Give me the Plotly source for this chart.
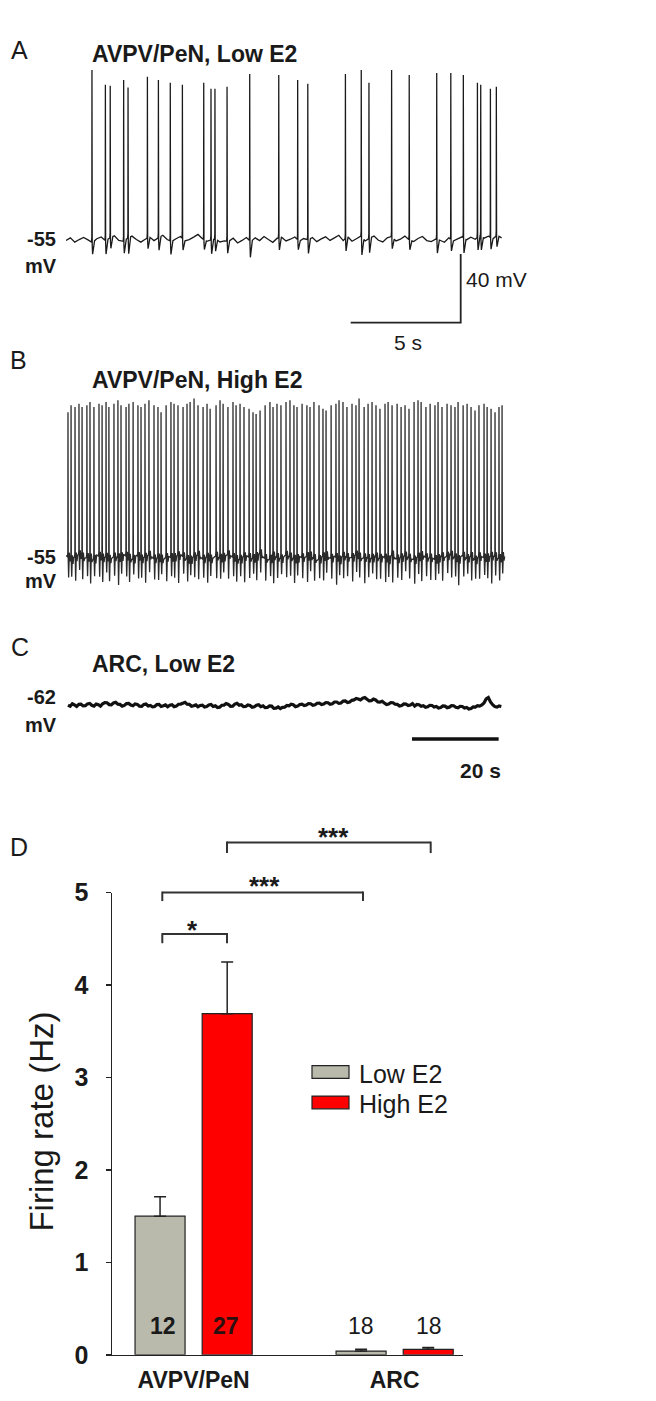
import numpy as np
import plotly.graph_objects as go

W, H = 656, 1401
def PX(x): return x / W
def PY(y): return 1 - y / H

FONT = "Liberation Sans, Arial, sans-serif"

# ---------------- Panel A: AVPV/PeN, Low E2 (time s, membrane potential mV)
A_SPIKE_T = [1.18, 1.79, 2.01, 2.62, 2.82, 3.70, 4.20, 4.74, 5.29, 6.26,
             6.59, 6.77, 7.32, 8.35, 9.67, 10.53, 10.99, 12.70, 13.42, 13.77,
             14.80, 15.60, 16.85, 17.49, 18.06, 18.70, 18.85, 19.29, 19.56]
A_SPIKE_PEAK = [43.9, 35.3, 34.7, 38.1, 33.6, 39.9, 38.1, 36.4, 35.3, 36.4,
                33.0, 33.0, 34.1, 41.6, 41.0, 38.1, 35.9, 41.6, 43.9, 36.4,
                43.9, 41.0, 42.1, 42.1, 41.0, 36.4, 35.3, 33.0, 34.1]
A_SPIKE_AHP = [7, 8, 6, 7, 9, 6, 7, 8, 7, 6,
               8, 7, 7, 10, 7, 6, 8, 7, 11, 8,
               7, 6, 8, 7, 9, 7, 8, 7, 6]
A_BASE_DT = 0.2
A_BASE = [-55.5, -54.0, -56.5, -55.0, -53.8, -55.2, -56.8, -54.5, -53.5, -55.8,
          -54.0, -52.8, -55.5, -56.0, -54.2, -53.0, -55.0, -56.5, -54.8, -53.5,
          -55.6, -54.0, -52.5, -55.0, -56.2, -54.5, -53.2, -55.8, -55.0, -53.6,
          -52.0, -54.5, -56.0, -55.2, -54.6, -56.4, -55.8, -56.0, -54.2, -57.0,
          -55.5, -53.8, -56.2, -54.0, -55.6, -53.2, -55.0, -56.6, -54.2, -53.6,
          -55.8, -54.8, -53.5, -56.0, -54.4, -55.2, -53.8, -56.2, -54.6, -53.4,
          -55.5, -54.0, -52.5, -55.6, -53.2, -56.0, -54.5, -53.0, -55.8, -54.2,
          -53.0, -55.4, -56.4, -54.0, -53.2, -55.8, -54.8, -53.0, -55.2, -56.2,
          -54.4, -53.2, -55.6, -56.2, -54.8, -55.4, -56.6, -54.0, -55.8, -54.6,
          -53.4, -55.2, -53.6, -54.8, -52.8, -54.2, -53.0, -54.6, -52.5, -54.0]

# ---------------- Panel B: AVPV/PeN, High E2
B_SPIKE_T = [0.09, 0.23, 0.41, 0.59, 0.73, 0.95, 1.09, 1.27, 1.50, 1.64,
             1.82, 1.95, 2.18, 2.36, 2.50, 2.73, 2.86, 3.05, 3.27, 3.41,
             3.59, 3.77, 4.00, 4.18, 4.32, 4.55, 4.77, 4.91, 5.09, 5.32,
             5.50, 5.64, 5.82, 6.00, 6.23, 6.41, 6.55, 6.82, 7.00, 7.14,
             7.36, 7.59, 7.73, 7.91, 8.09, 8.32, 8.50, 8.64, 8.82, 9.05,
             9.27, 9.41, 9.59, 9.77, 10.00, 10.18, 10.36, 10.50, 10.73, 10.95,
             11.09, 11.27, 11.50, 11.68, 11.82, 12.05, 12.27, 12.41, 12.59, 12.77,
             13.00, 13.18, 13.32, 13.55, 13.73, 13.91, 14.09, 14.27, 14.50, 14.64,
             14.82, 15.05, 15.23, 15.41, 15.59, 15.82, 16.00, 16.14, 16.36, 16.55,
             16.77, 16.91, 17.09, 17.32, 17.50, 17.68, 17.82, 18.05, 18.23, 18.41,
             18.59, 18.77, 19.00, 19.14, 19.32, 19.50, 19.68, 19.82]
B_SPIKE_PEAK = [30, 34, 33, 35, 33, 34, 36, 33, 35, 34,
                36, 33, 35, 37, 34, 33, 35, 36, 34, 33,
                35, 37, 34, 33, 30, 34, 36, 35, 34, 33,
                35, 36, 38, 34, 33, 35, 32, 34, 37, 35,
                33, 36, 34, 35, 33, 32, 30, 29, 31, 34,
                36, 33, 35, 34, 36, 37, 34, 33, 35, 34,
                33, 36, 34, 32, 31, 34, 35, 37, 36, 33,
                35, 34, 38, 33, 35, 36, 34, 32, 35, 36,
                34, 35, 33, 34, 32, 36, 37, 36, 33, 35,
                34, 36, 33, 35, 34, 33, 36, 34, 35, 33,
                31, 34, 35, 33, 32, 30, 33, 34]
B_SPIKE_AHP = [12, 10, 14, 9, 13, 11, 15, 10, 12, 14,
               9, 13, 11, 16, 10, 12, 14, 9, 13, 11,
               15, 10, 12, 13, 9, 14, 11, 12, 16, 10,
               13, 9, 12, 14, 11, 15, 10, 13, 12, 9,
               14, 11, 13, 10, 15, 12, 9, 14, 11, 13,
               10, 16, 12, 9, 13, 11, 14, 10, 12, 15,
               9, 13, 11, 14, 10, 12, 16, 9, 13, 11,
               14, 10, 12, 15, 11, 9, 13, 12, 14, 10,
               16, 11, 13, 9, 12, 14, 10, 15, 11, 13,
               12, 9, 14, 10, 13, 11, 15, 12, 9, 14,
               11, 13, 10, 12, 16, 11, 13, 10]
B_BASE_DT = 0.2
B_BASE = [-53.5, -56.0, -54.2, -52.8, -55.6, -54.0, -56.5, -53.2, -55.0, -54.4,
          -56.2, -53.8, -55.2, -52.6, -54.8, -56.0, -53.4, -55.6, -54.2, -53.0,
          -55.8, -54.6, -56.4, -53.6, -55.0, -54.0, -52.8, -55.4, -56.2, -54.2,
          -53.2, -55.6, -54.4, -56.0, -53.8, -55.2, -54.0, -52.6, -55.0, -56.4,
          -54.6, -53.4, -55.8, -54.2, -52.4, -55.0, -56.2, -53.6, -54.8, -55.6,
          -53.0, -54.6, -56.0, -54.0, -55.4, -53.2, -54.8, -56.6, -54.4, -53.6,
          -55.2, -54.0, -56.2, -53.4, -55.0, -54.6, -52.8, -55.8, -54.2, -56.0,
          -53.8, -55.4, -54.0, -56.4, -53.2, -55.6, -54.8, -53.6, -55.2, -56.0,
          -54.2, -53.0, -55.4, -54.6, -56.2, -53.8, -55.0, -52.6, -54.4, -55.8,
          -53.6, -55.2, -54.0, -56.4, -53.4, -55.0, -54.6, -53.2, -55.6, -54.0]

# ---------------- Panel C: ARC, Low E2 (sampled every 0.5 s)
C_BASE_DT = 0.5
C_BASE = [-62.0, -62.7, -61.2, -61.9, -62.8, -61.6, -61.5, -62.5, -62.4, -61.3,
          -61.0, -62.1, -62.6, -61.4, -61.8, -62.6, -61.2, -60.5, -60.6, -61.7,
          -61.8, -60.8, -60.4, -61.5, -61.6, -62.6, -62.2, -61.1, -61.0, -62.0,
          -62.4, -61.3, -61.6, -62.7, -62.8, -61.6, -61.4, -62.5, -62.2, -63.0,
          -62.8, -61.7, -61.6, -62.8, -62.4, -61.9, -63.0, -62.1, -61.8, -62.9,
          -62.6, -61.5, -61.4, -60.9, -60.4, -61.5, -61.6, -62.7, -62.4, -61.9,
          -63.0, -62.2, -62.0, -63.1, -62.8, -61.9, -61.6, -62.8, -62.4, -63.4,
          -63.2, -62.1, -62.0, -61.1, -61.6, -62.7, -62.6, -61.4, -61.0, -62.1,
          -61.8, -62.9, -62.8, -61.9, -62.2, -63.3, -63.0, -62.1, -61.8, -62.9,
          -62.4, -63.5, -63.4, -62.5, -62.6, -63.9, -63.8, -63.1, -64.0, -63.3,
          -63.2, -62.2, -62.4, -61.5, -61.8, -62.9, -62.6, -61.6, -61.4, -62.3,
          -62.0, -61.1, -61.2, -62.1, -61.8, -60.9, -60.8, -61.7, -61.4, -60.5,
          -60.6, -61.5, -61.2, -60.2, -60.2, -61.0, -60.8, -59.7, -59.6, -60.5,
          -60.2, -59.2, -59.0, -58.1, -58.4, -59.0, -58.0, -57.6, -58.6, -59.5,
          -59.4, -58.5, -59.0, -60.1, -60.2, -59.8, -60.8, -61.7, -61.4, -60.5,
          -60.6, -61.5, -61.6, -62.5, -62.2, -61.3, -61.4, -62.3, -62.0, -61.1,
          -62.6, -61.6, -61.8, -62.7, -62.4, -63.3, -63.0, -62.1, -62.2, -63.1,
          -62.8, -63.7, -63.4, -62.5, -62.6, -63.5, -63.2, -62.3, -62.4, -63.3,
          -63.6, -62.7, -62.8, -63.7, -63.4, -64.3, -64.0, -63.1, -63.2, -62.3,
          -62.6, -61.9, -60.8, -58.4, -57.6, -60.2, -61.8, -62.9, -63.2, -62.5,
          -62.8]

# ---------------- Panel D: firing rate (Hz)
REGIONS = ["AVPV/PeN", "ARC"]
LOW_E2 = [1.50, 0.04]
LOW_E2_ERR = [0.21, 0.02]
HIGH_E2 = [3.69, 0.06]
HIGH_E2_ERR = [0.56, 0.02]
N_LOW = ["12", "18"]
N_HIGH = ["27", "18"]


def build_trace(base, dt, spike_t, peaks, ahps, extra=False):
    bt = np.arange(len(base)) * dt
    bv = np.array(base, dtype=float)
    st = np.array(spike_t, dtype=float)
    rise, rec = 0.02, 0.12
    pts = []
    for t, v in zip(bt, bv):
        if st.size and np.any((t > st - rise) & (t < st + rec)):
            continue
        pts.append((t, v))
    for ts, pk, ah in zip(spike_t, peaks, ahps):
        b0 = float(np.interp(ts - rise, bt, bv))
        b1 = float(np.interp(ts + rec, bt, bv))
        seg = [(ts - rise, b0), (ts - 0.006, b0 + 3.0), (ts, pk),
               (ts + 0.012, b0 - 2.0), (ts + 0.03, b0 - ah)]
        if extra:
            seg += [(ts + 0.06, b0 + 2.5), (ts + 0.09, b0 - 2.5)]
        seg.append((ts + rec, b1))
        pts += seg
    pts.sort()
    return [p[0] for p in pts], [p[1] for p in pts]


fig = go.Figure()

ax, ay = build_trace(A_BASE, A_BASE_DT, A_SPIKE_T, A_SPIKE_PEAK, A_SPIKE_AHP)
fig.add_trace(go.Scatter(x=ax, y=ay, mode="lines", xaxis="x", yaxis="y",
                         line=dict(color="#1a1a1a", width=1.3, simplify=False),
                         showlegend=False, hoverinfo="skip"))
# scale bars A (40 mV, 5 s)
fig.add_trace(go.Scatter(x=[12.94, 17.94, 17.94], y=[-103.4, -103.4, -63.4], mode="lines",
                         xaxis="x", yaxis="y", line=dict(color="#222", width=1.8),
                         showlegend=False, hoverinfo="skip"))

bx, by = build_trace(B_BASE, B_BASE_DT, B_SPIKE_T, B_SPIKE_PEAK, B_SPIKE_AHP, extra=True)
fig.add_trace(go.Scatter(x=bx, y=by, mode="lines", xaxis="x2", yaxis="y2",
                         line=dict(color="#2a2a2a", width=1.3, simplify=False),
                         showlegend=False, hoverinfo="skip"))

ct = list(np.arange(len(C_BASE)) * C_BASE_DT)
fig.add_trace(go.Scatter(x=ct, y=C_BASE, mode="lines", xaxis="x3", yaxis="y3",
                         line=dict(color="#111", width=3.2, simplify=False),
                         showlegend=False, hoverinfo="skip"))
# scale bar C (20 s)
fig.add_trace(go.Scatter(x=[79.38, 99.38], y=[-81.8, -81.8], mode="lines",
                         xaxis="x3", yaxis="y3", line=dict(color="#111", width=3.5),
                         showlegend=False, hoverinfo="skip"))

# Panel D bars
fig.add_trace(go.Bar(x=[0, 1], y=LOW_E2, name="Low E2", xaxis="x4", yaxis="y4",
                     marker=dict(color="#b9b9ac", line=dict(color="#222", width=1.2)),
                     error_y=dict(type="data", array=LOW_E2_ERR, arrayminus=[0, 0],
                                  symmetric=False, color="#222", thickness=1.5, width=6),
                     showlegend=False, hoverinfo="skip"))
fig.add_trace(go.Bar(x=[0, 1], y=HIGH_E2, name="High E2", xaxis="x4", yaxis="y4",
                     marker=dict(color="#ff0000", line=dict(color="#222", width=1.2)),
                     error_y=dict(type="data", array=HIGH_E2_ERR, arrayminus=[0, 0],
                                  symmetric=False, color="#222", thickness=1.5, width=6),
                     showlegend=False, hoverinfo="skip"))

hidden = dict(visible=False, fixedrange=True)
layout = dict(
    width=W, height=H, margin=dict(l=0, r=0, t=0, b=0),
    paper_bgcolor="white", plot_bgcolor="rgba(0,0,0,0)",
    barmode="group", bargap=0.332, bargroupgap=0.255,
    font=dict(family=FONT, color="#1a1a1a"),
    xaxis=dict(domain=[PX(58), PX(500)], range=[0, 20.09], anchor="y", **hidden),
    yaxis=dict(domain=[PY(320), PY(40)], range=[-111, 49], anchor="x", **hidden),
    xaxis2=dict(domain=[PX(58), PX(500)], range=[0, 20.09], anchor="y2", **hidden),
    yaxis2=dict(domain=[PY(590), PY(370)], range=[-79.6, 46.1], anchor="x2", **hidden),
    xaxis3=dict(domain=[PX(58), PX(500)], range=[-0.46, 101.54], anchor="y3", **hidden),
    yaxis3=dict(domain=[PY(760), PY(640)], range=[-98, -29.4], anchor="x3", **hidden),
    xaxis4=dict(domain=[PX(104), PX(455)], range=[-0.406, 1.340], anchor="y4",
                showline=True, linecolor="#222", linewidth=1.5, ticks="",
                tickvals=[0, 1], ticktext=REGIONS, showgrid=False, zeroline=False,
                tickfont=dict(family=FONT, size=23, color="#1a1a1a", weight="bold"),
                ticklabelstandoff=4, fixedrange=True),
    yaxis4=dict(domain=[PY(1360), PY(888.3)], range=[0, 5], anchor="x4",
                showline=True, linecolor="#222", linewidth=1.5, ticks="outside",
                ticklen=5, tickwidth=1.5, tickcolor="#222",
                tickvals=[0, 1, 2, 3, 4, 5], showgrid=False, zeroline=False,
                tickfont=dict(family=FONT, size=25, color="#1a1a1a", weight="bold"),
                ticklabelstandoff=12, fixedrange=True),
)
fig.update_layout(**layout)

ann = []
def T(text, x, y, size, bold=False, xanchor="center", color="#1a1a1a", angle=0):
    ann.append(dict(text=text, x=PX(x), y=PY(y), xref="paper", yref="paper",
                    xanchor=xanchor, yanchor="middle", showarrow=False, textangle=angle,
                    font=dict(family=FONT, size=size, color=color,
                              weight="bold" if bold else "normal")))

# panel letters
T("A", 11, 29, 25)
T("B", 10, 345, 25)
T("C", 12, 638, 25)
T("D", 11, 842, 25)
# titles
T("AVPV/PeN, Low E2", 82, 33, 23, True, "left")
T("AVPV/PeN, High E2", 82, 365, 23, True, "left")
T("ARC, Low E2", 82, 655, 23, True, "left")
# potential labels
T("-55", 33, 221, 20, True)
T("mV", 33, 249, 20, True)
T("-55", 33, 546, 20, True)
T("mV", 33, 570, 20, True)
T("-62", 33, 689, 20, True)
T("mV", 33, 717, 20, True)
# scale bar labels
T("40 mV", 456, 263, 21, False, "left")
T("5 s", 400, 327, 21, False)
T("20 s", 472, 764, 21, True)
# axis title
T("Firing rate (Hz)", 34, 1122, 33, False, angle=-90)
# legend
T("Low E2", 349, 1073, 25, False, "left")
T("High E2", 349, 1104, 25, False, "left")
# n labels
T(N_LOW[0], 155, 1331, 23, True)
T(N_HIGH[0], 218, 1331, 23, True, color="#2a1010")
T(N_LOW[1], 353, 1331, 23, False)
T(N_HIGH[1], 421, 1331, 23, False)
# stars
T("*", 184, 927, 26, True)
T("***", 256, 882, 26, True)
T("***", 325, 832, 26, True)

shapes = []
def L(x0, y0, x1, y1, w=2.0, c="#333"):
    shapes.append(dict(type="line", xref="paper", yref="paper", x0=PX(x0), y0=PY(y0),
                       x1=PX(x1), y1=PY(y1), line=dict(color=c, width=w)))
def bracket(xa, xb, y, yd):
    L(xa, y, xb, y)
    L(xa, y - 1, xa, yd)
    L(xb, y - 1, xb, yd)

bracket(154.3, 219, 930.7, 940)
bracket(154.3, 355, 888.3, 897)
bracket(219, 422.7, 837.3, 848)
# x-axis line extension to the left of y-axis
L(98, 1360, 104, 1360, 1.5, "#222")
# legend boxes
shapes.append(dict(type="rect", xref="paper", yref="paper", x0=PX(304), x1=PX(341),
                   y0=PY(1078), y1=PY(1065), fillcolor="#b9b9ac",
                   line=dict(color="#222", width=1.2)))
shapes.append(dict(type="rect", xref="paper", yref="paper", x0=PX(304), x1=PX(341),
                   y0=PY(1109), y1=PY(1096), fillcolor="#ff0000",
                   line=dict(color="#222", width=1.2)))

fig.update_layout(annotations=ann, shapes=shapes)
fig.write_html("out.html", config={"displayModeBar": False, "staticPlot": True})
